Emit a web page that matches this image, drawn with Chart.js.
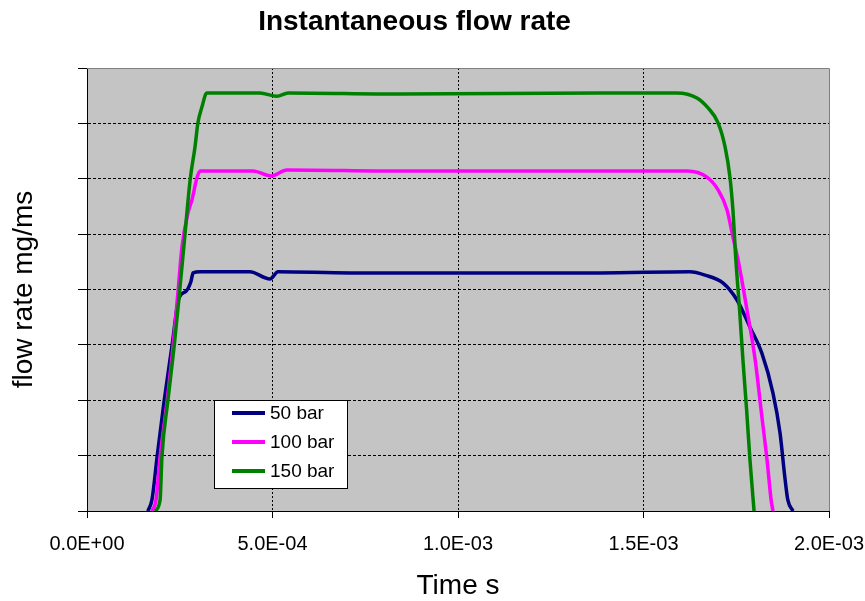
<!DOCTYPE html>
<html lang="en">
<head>
  <meta charset="UTF-8">
  <title>Instantaneous flow rate</title>
  <script src="https://cdn.jsdelivr.net/npm/chart.js"></script>
  <style>
    body { margin: 0; background: #fff; }
  </style>
</head>
<body>
<canvas id="flowChart" width="865" height="601"></canvas>
<script>
  // injection rate traces: time in seconds, flow rate in mg/ms
  const t50 = [1.64e-4, 1.75e-4, 1.89e-4, 2.08e-4, 2.29e-4, 2.48e-4, 2.67e-4, 2.80e-4, 2.86e-4, 3.05e-4,
               4.39e-4, 4.93e-4, 5.15e-4, 7.09e-4, 9.78e-4, 1.383e-3, 1.625e-3, 1.666e-3, 1.714e-3, 1.752e-3,
               1.787e-3, 1.819e-3, 1.849e-3, 1.868e-3, 1.881e-3, 1.889e-3, 1.903e-3];
  const q50 = [0, 0.20, 0.98, 1.99, 2.98, 3.85, 3.97, 4.14, 4.30, 4.32,
               4.32, 4.19, 4.32, 4.30, 4.30, 4.30, 4.32, 4.26, 4.12, 3.81,
               3.32, 2.85, 2.13, 1.41, 0.61, 0.20, 0];

  const t100 = [1.75e-4, 1.86e-4, 1.97e-4, 2.16e-4, 2.32e-4, 2.45e-4, 2.56e-4, 2.72e-4, 2.83e-4, 2.97e-4,
                3.05e-4, 4.47e-4, 4.96e-4, 5.39e-4, 8.44e-4, 1.383e-3, 1.617e-3, 1.671e-3, 1.701e-3, 1.725e-3,
                1.741e-3, 1.755e-3, 1.779e-3, 1.801e-3, 1.817e-3, 1.833e-3, 1.844e-3, 1.849e-3];
  const q100 = [0, 0.20, 0.98, 1.99, 2.98, 3.94, 4.77, 5.38, 5.62, 6.03,
                6.14, 6.14, 6.05, 6.16, 6.14, 6.14, 6.14, 6.03, 5.80, 5.44,
                4.95, 4.53, 3.63, 2.73, 1.82, 0.92, 0.20, 0];

  const t150 = [1.83e-4, 1.97e-4, 2.02e-4, 2.18e-4, 2.35e-4, 2.48e-4, 2.61e-4, 2.78e-4, 2.91e-4, 2.99e-4,
                3.10e-4, 3.23e-4, 4.66e-4, 5.12e-4, 5.42e-4, 8.44e-4, 1.383e-3, 1.590e-3, 1.644e-3, 1.674e-3,
                1.701e-3, 1.720e-3, 1.733e-3, 1.741e-3, 1.749e-3, 1.759e-3, 1.768e-3, 1.778e-3, 1.787e-3, 1.798e-3];
  const q150 = [0, 0.20, 0.98, 1.99, 2.98, 3.85, 4.77, 5.98, 6.57, 7.01,
                7.30, 7.55, 7.55, 7.49, 7.55, 7.53, 7.55, 7.55, 7.46, 7.28,
                7.01, 6.57, 6.03, 5.44, 4.53, 3.63, 2.73, 1.82, 0.92, 0];

  const seriesLabels = ['50 bar', '100 bar', '150 bar'];
  const xTickValues = [0, 0.0005, 0.001, 0.0015, 0.002];
  const xTickLabels = ['0.0E+00', '5.0E-04', '1.0E-03', '1.5E-03', '2.0E-03'];
  const yTickValues = [0, 1, 2, 3, 4, 5, 6, 7, 8];

  const FONT = "'Liberation Sans', Arial, sans-serif";

  function toPoints(ts, qs) {
    return ts.map((t, i) => ({ x: t, y: qs[i] }));
  }

  // gray plot area plus the thin gray frame on the top and right edges
  const plotFrame = {
    id: 'plotFrame',
    beforeDraw(chart) {
      const { ctx, chartArea: a } = chart;
      ctx.save();
      ctx.fillStyle = '#c4c4c4';
      ctx.fillRect(a.left, a.top, a.right - a.left, a.bottom - a.top);
      ctx.restore();
    },
    beforeDatasetsDraw(chart) {
      const { ctx, chartArea: a } = chart;
      ctx.save();
      ctx.strokeStyle = '#808080';
      ctx.lineWidth = 1;
      ctx.beginPath();
      ctx.moveTo(a.left, a.top + 0.5);
      ctx.lineTo(a.right + 0.5, a.top + 0.5);
      ctx.lineTo(a.right + 0.5, a.bottom);
      ctx.stroke();
      ctx.restore();
    }
  };

  // boxed legend sitting inside the plot, lower left
  const insideLegend = {
    id: 'insideLegend',
    afterDatasetsDraw(chart) {
      const ctx = chart.ctx;
      const bx = 214, by = 400, bw = 133, bh = 88;
      ctx.save();
      ctx.fillStyle = '#fff';
      ctx.fillRect(bx, by, bw, bh);
      ctx.strokeStyle = '#000';
      ctx.lineWidth = 1;
      ctx.strokeRect(bx + 0.5, by + 0.5, bw, bh);
      ctx.font = '19px ' + FONT;
      ctx.textBaseline = 'middle';
      ctx.fillStyle = '#000';
      chart.data.datasets.forEach((ds, i) => {
        const y = by + 13 + i * 29;
        ctx.strokeStyle = ds.borderColor;
        ctx.lineWidth = 4;
        ctx.beginPath();
        ctx.moveTo(bx + 18, y);
        ctx.lineTo(bx + 51, y);
        ctx.stroke();
        ctx.fillText(ds.label, bx + 56, y + 1);
      });
      ctx.restore();
    }
  };

  const ctx = document.getElementById('flowChart').getContext('2d');
  const chart = new Chart(ctx, {
    type: 'line',
    data: {
      datasets: [
        { label: seriesLabels[0], data: toPoints(t50, q50), borderColor: '#000080', order: 3 },
        { label: seriesLabels[1], data: toPoints(t100, q100), borderColor: '#ff00ff', order: 2 },
        { label: seriesLabels[2], data: toPoints(t150, q150), borderColor: '#008000', order: 1 }
      ]
    },
    options: {
      responsive: false,
      animation: false,
      datasets: {
        line: { borderWidth: 3.5, pointRadius: 0, fill: false, cubicInterpolationMode: 'monotone' }
      },
      layout: { padding: { left: 0, right: 36, top: 0, bottom: 0 } },
      plugins: {
        legend: { display: false },
        tooltip: { enabled: false },
        title: {
          display: true,
          text: 'Instantaneous flow rate',
          color: '#000',
          font: { family: FONT, size: 28, weight: 'bold', lineHeight: 1.2 },
          padding: { top: 5, bottom: 29.4 }
        }
      },
      scales: {
        x: {
          type: 'linear',
          min: 0,
          max: 0.002,
          afterBuildTicks: s => { s.ticks = xTickValues.map(v => ({ value: v })); },
          afterFit: s => { s.height = 90; s.paddingLeft = 0; s.paddingRight = 0; },
          ticks: {
            color: '#000',
            padding: 14,
            maxRotation: 0,
            autoSkip: false,
            font: { family: FONT, size: 20 },
            callback: (v, i) => xTickLabels[i]
          },
          grid: {
            color: c => (c.tick && c.tick.value === 0.002) ? 'rgba(0,0,0,0)' : '#000',
            tickColor: '#000',
            tickLength: 7,
            lineWidth: 1
          },
          border: { color: '#000', width: 1, dash: [2, 2] },
          title: {
            display: true,
            text: 'Time s',
            color: '#000',
            font: { family: FONT, size: 28, lineHeight: 1 },
            padding: { top: 0, bottom: 1 }
          }
        },
        y: {
          min: 0,
          max: 8,
          afterBuildTicks: s => { s.ticks = yTickValues.map(v => ({ value: v })); },
          afterFit: s => { s.width = 87; s.paddingTop = 0; s.paddingBottom = 0; },
          ticks: { display: false },
          grid: {
            color: c => (c.tick && c.tick.value === 8) ? 'rgba(0,0,0,0)' : '#000',
            tickColor: '#000',
            tickLength: 9,
            lineWidth: 1
          },
          border: { color: '#000', width: 1, dash: [3, 2] },
          title: {
            display: true,
            text: 'flow rate mg/ms',
            color: '#000',
            font: { family: FONT, size: 28, lineHeight: 1.2 },
            padding: { top: 7, bottom: 0 }
          }
        }
      }
    },
    plugins: [plotFrame, insideLegend]
  });
</script>
</body>
</html>
